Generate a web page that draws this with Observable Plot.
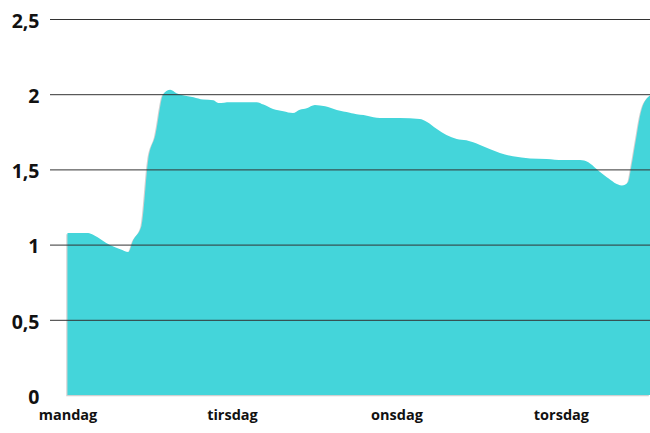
<!DOCTYPE html>
<html>
<head>
<meta charset="utf-8">
<script src="https://cdn.jsdelivr.net/npm/d3@7"></script>
<script src="https://cdn.jsdelivr.net/npm/@observablehq/plot@0.6"></script>
<style>
  html, body { margin: 0; padding: 0; background: #fff; }
  #chart svg { display: block; }
</style>
</head>
<body>
<div id="chart"></div>
<script>
// hours since Monday 00:00
const hours = [0, 3.0, 3.8, 6.2, 7.7, 8.9, 9.6, 10.8, 11.8, 12.8, 14.0, 15.0, 15.9, 18.4, 19.8,
  21.3, 22.0, 23.7, 27.6, 28.6, 30.0, 31.5, 32.9, 33.9, 34.9, 36.1, 37.6, 39.3, 41.2, 41.7,
  43.7, 45.6, 48.5, 51.4, 52.4, 53.9, 55.3, 56.8, 58.2, 60.2, 61.6, 63.1, 65.0, 67.5, 69.9,
  72.3, 74.8, 76.0, 77.2, 78.7, 80.9, 81.8, 82.3, 82.8, 83.8, 85.0];
const values = [1.077, 1.077, 1.064, 0.997, 0.969, 0.951, 1.03, 1.124, 1.569, 1.724, 2.002, 2.029, 2.007, 1.98, 1.964,
  1.96, 1.942, 1.947, 1.947, 1.931, 1.902, 1.887, 1.875, 1.897, 1.907, 1.929, 1.92, 1.895, 1.877, 1.871,
  1.857, 1.842, 1.842, 1.835, 1.817, 1.769, 1.729, 1.702, 1.693, 1.662, 1.635, 1.609, 1.587, 1.573, 1.569,
  1.562, 1.562, 1.547, 1.502, 1.447, 1.393, 1.415, 1.524, 1.657, 1.902, 1.991];
const dayTicks = [0, 24, 48, 72];
const dayLabels = ["mandag", "tirsdag", "onsdag", "torsdag"];
const yTicks = [0, 0.5, 1, 1.5, 2, 2.5];
const yLabels = ["0", "0,5", "1", "1,5", "2", "2,5"];
const gridValues = [0.5, 1, 1.5, 2, 2.5];

const data = hours.map((h, i) => ({h, v: values[i]}));

const chart = Plot.plot({
  width: 650,
  height: 433,
  marginTop: 19,
  marginBottom: 38,
  marginLeft: 50,
  marginRight: 0,
  style: {fontFamily: "'Open Sans', sans-serif", color: "#111", background: "#fff"},
  x: {domain: [-2.55, 85], axis: null},
  y: {domain: [0, 2.5], axis: null},
  marks: [
    Plot.areaY(data, {x: "h", y: "v", fill: "#b0b0b0", fillOpacity: 0.6, curve: "monotone-x", dx: -1.2, dy: 1.2}),
    Plot.areaY(data, {x: "h", y: "v", fill: "#44d5da", curve: "monotone-x"}),
    Plot.ruleY(gridValues, {stroke: "#333", strokeWidth: 1}),
    Plot.axisY({ticks: yTicks, tickFormat: (d) => yLabels[yTicks.indexOf(d)], tickSize: 0, tickPadding: 11,
      fontSize: 19.5, fontWeight: 700, dy: 2, label: null}),
    Plot.axisX({ticks: dayTicks, tickFormat: (d) => dayLabels[dayTicks.indexOf(d)], tickSize: 0, tickPadding: 14,
      fontSize: 14.5, fontWeight: 700, label: null})
  ]
});
document.getElementById("chart").appendChild(chart);
</script>
</body>
</html>
